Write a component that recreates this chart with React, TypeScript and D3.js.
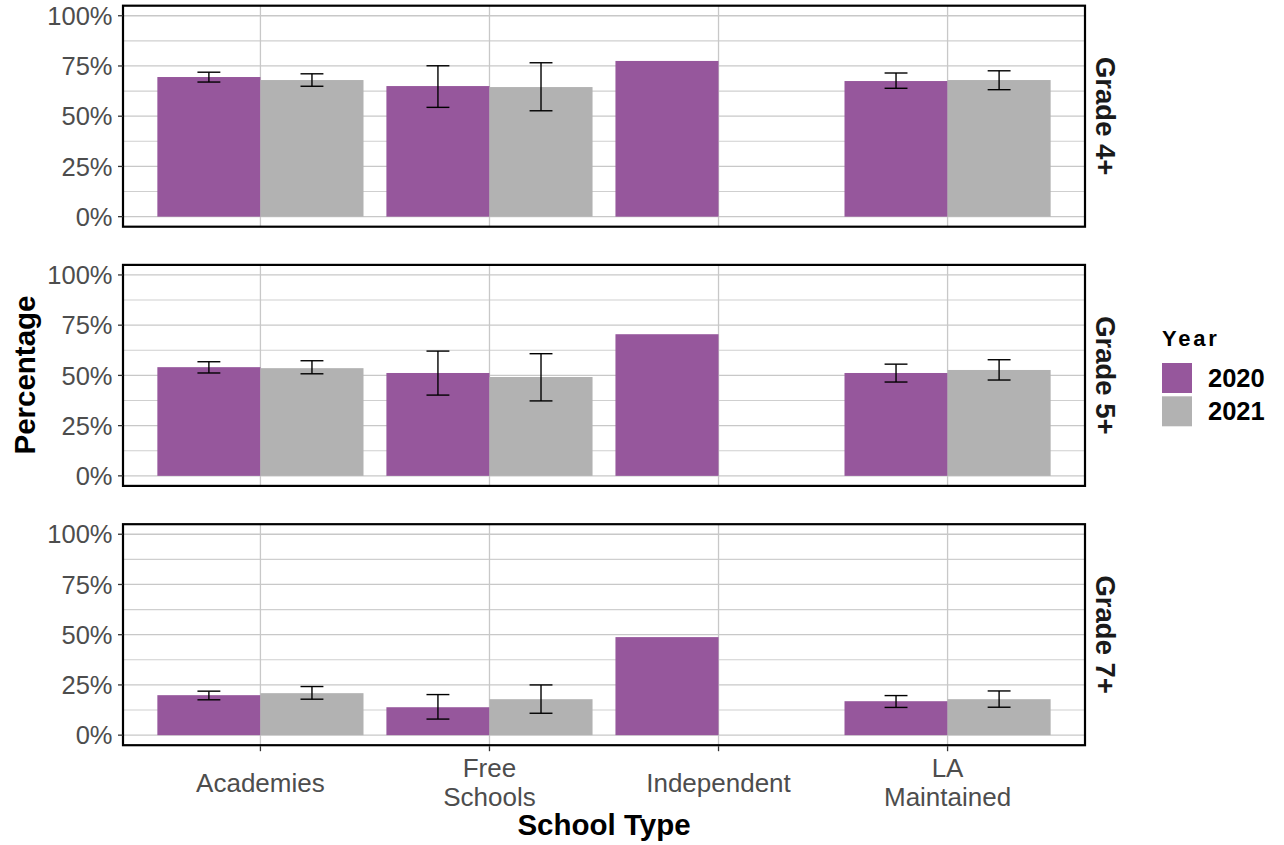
import React from "react";
import * as d3 from "d3";

const schoolTypes = ["Academies", "Free Schools", "Independent", "LA Maintained"];
const schoolTypeLines = [["Academies"], ["Free", "Schools"], ["Independent"], ["LA", "Maintained"]];
const years = ["2020", "2021"];
const grades = ["Grade 4+", "Grade 5+", "Grade 7+"];
const yTicks = [0, 25, 50, 75, 100];
const yMinorTicks = [12.5, 37.5, 62.5, 87.5];

// Grade 4+
const g4v2020 = [69.5, 65.0, 77.5, 67.5];
const g4v2021 = [68.0, 64.5, null, 68.0];
const g4lo2020 = [67.0, 54.4, null, 63.9];
const g4hi2020 = [71.9, 75.1, null, 71.5];
const g4lo2021 = [64.9, 52.7, null, 63.2];
const g4hi2021 = [71.1, 76.6, null, 72.6];
// Grade 5+
const g5v2020 = [54.1, 51.2, 70.5, 51.2];
const g5v2021 = [53.6, 49.2, null, 52.7];
const g5lo2020 = [51.2, 40.2, null, 46.7];
const g5hi2020 = [56.8, 62.1, null, 55.6];
const g5lo2021 = [50.8, 37.3, null, 47.7];
const g5hi2021 = [57.3, 60.8, null, 57.8];
// Grade 7+
const g7v2020 = [19.9, 13.9, 48.8, 16.9];
const g7v2021 = [20.9, 17.9, null, 17.9];
const g7lo2020 = [17.6, 8.0, null, 13.8];
const g7hi2020 = [21.9, 20.2, null, 19.7];
const g7lo2021 = [17.9, 10.9, null, 13.9];
const g7hi2021 = [24.2, 25.0, null, 22.0];

const colors = ["#96579c", "#b2b2b2"];

type Row = { grade: string; type: string; year: string; v: number; lo: number | null; hi: number | null };

function buildRows(): Row[] {
  const sets = [
    [g4v2020, g4v2021, g4lo2020, g4hi2020, g4lo2021, g4hi2021],
    [g5v2020, g5v2021, g5lo2020, g5hi2020, g5lo2021, g5hi2021],
    [g7v2020, g7v2021, g7lo2020, g7hi2020, g7lo2021, g7hi2021],
  ];
  const rows: Row[] = [];
  grades.forEach((g, gi) => {
    const [v0, v1, lo0, hi0, lo1, hi1] = sets[gi];
    schoolTypes.forEach((t, ti) => {
      if (v0[ti] != null) rows.push({ grade: g, type: t, year: years[0], v: v0[ti] as number, lo: lo0[ti], hi: hi0[ti] });
      if (v1[ti] != null) rows.push({ grade: g, type: t, year: years[1], v: v1[ti] as number, lo: lo1[ti], hi: hi1[ti] });
    });
  });
  return rows;
}

const FONT = "'Liberation Sans', Arial, Helvetica, sans-serif";

export default function App() {
  const W = 1284, H = 845;
  const left = 123, right = 1085;
  const panelTops = [5.7, 264.9, 524.2];
  const panelH = 221;
  const rows = buildRows();

  const x = d3.scaleBand<string>().domain(schoolTypes).range([left, right]).paddingInner(0.1).paddingOuter(0.15);
  const xs = d3.scaleBand<string>().domain(years).range([0, x.bandwidth()]).padding(0);
  const step = x.step();
  const capW = step * 0.1;
  const center = (t: string) => (x(t) as number) + x.bandwidth() / 2;

  return (
    <svg width={W} height={H} style={{ position: "absolute", left: 0, top: 0, background: "#fff" }} fontFamily={FONT}>
      <rect x={0} y={0} width={W} height={H} fill="#fff" />
      {grades.map((g, gi) => {
        const top = panelTops[gi];
        const y = d3.scaleLinear().domain([-5, 105]).range([top + panelH, top]);
        const pr = rows.filter((r) => r.grade === g);
        return (
          <g key={g}>
            {yMinorTicks.map((t) => (
              <line key={"m" + t} x1={left} x2={right} y1={y(t)} y2={y(t)} stroke="#cfcfcf" strokeWidth={1.1} />
            ))}
            {yTicks.map((t) => (
              <line key={"M" + t} x1={left} x2={right} y1={y(t)} y2={y(t)} stroke="#c8c8c8" strokeWidth={1.3} />
            ))}
            {schoolTypes.map((t) => (
              <line key={"v" + t} x1={center(t)} x2={center(t)} y1={top} y2={top + panelH} stroke="#c8c8c8" strokeWidth={1.3} />
            ))}
            {pr.map((r) => (
              <rect
                key={"b" + r.type + r.year}
                x={(x(r.type) as number) + (xs(r.year) as number)}
                y={y(r.v)}
                width={xs.bandwidth()}
                height={y(0) - y(r.v)}
                fill={colors[years.indexOf(r.year)]}
              />
            ))}
            {pr
              .filter((r) => r.lo != null && r.hi != null)
              .map((r) => {
                const cx = (x(r.type) as number) + (xs(r.year) as number) + xs.bandwidth() / 2;
                const yl = y(r.lo as number), yh = y(r.hi as number);
                return (
                  <g key={"e" + r.type + r.year} stroke="#000" strokeWidth={1.4} fill="none">
                    <line x1={cx} x2={cx} y1={yl} y2={yh} />
                    <line x1={cx - capW / 2} x2={cx + capW / 2} y1={yl} y2={yl} />
                    <line x1={cx - capW / 2} x2={cx + capW / 2} y1={yh} y2={yh} />
                  </g>
                );
              })}
            <rect x={left} y={top} width={right - left} height={panelH} fill="none" stroke="#000" strokeWidth={2.2} />
            {yTicks.map((t) => (
              <g key={"yt" + t}>
                <line x1={left - 5} x2={left} y1={y(t)} y2={y(t)} stroke="#333" strokeWidth={1.3} />
                <text x={112.5} y={y(t)} dy="0.36em" textAnchor="end" fontSize={25.5} fill="#4d4d4d">
                  {t + "%"}
                </text>
              </g>
            ))}
            <text
              x={1096}
              y={top + panelH / 2}
              transform={`rotate(90, 1096, ${top + panelH / 2})`}
              textAnchor="middle"
              fontSize={27.5}
              fontWeight="bold"
              fill="#1a1a1a"
            >
              {g}
            </text>
          </g>
        );
      })}
      {schoolTypes.map((t, i) => {
        const cx = center(t);
        const bottom = panelTops[2] + panelH;
        const lines = schoolTypeLines[i];
        const lh = 28.3;
        const baseY = 791.5 - ((lines.length - 1) * lh) / 2;
        return (
          <g key={"xt" + t}>
            <line x1={cx} x2={cx} y1={bottom + 1} y2={bottom + 6} stroke="#333" strokeWidth={1.3} />
            {lines.map((ln, li) => (
              <text key={ln} x={cx} y={baseY + li * lh} textAnchor="middle" fontSize={26} fill="#4d4d4d">
                {ln}
              </text>
            ))}
          </g>
        );
      })}
      <text x={(left + right) / 2} y={835} textAnchor="middle" fontSize={29.5} fontWeight="bold" fill="#000">
        School Type
      </text>
      <text
        x={35}
        y={375}
        transform="rotate(-90, 35, 375)"
        textAnchor="middle"
        fontSize={29.5}
        fontWeight="bold"
        fill="#000"
      >
        Percentage
      </text>
      <text x={1162} y={346} fontSize={22} fontWeight="bold" fill="#000" letterSpacing={2.8}>
        Year
      </text>
      {years.map((yr, i) => (
        <g key={"lg" + yr}>
          <rect x={1162} y={363 + i * 33.3} width={30} height={30} fill={colors[i]} />
          <text x={1208} y={378 + i * 33.3} dy="0.36em" fontSize={25.5} fontWeight="bold" fill="#000">
            {yr}
          </text>
        </g>
      ))}
    </svg>
  );
}
